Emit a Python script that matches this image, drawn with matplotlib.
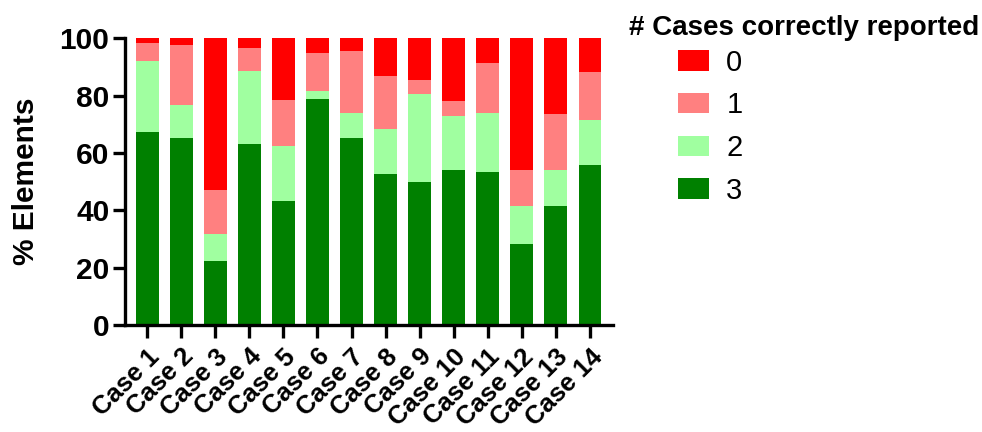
import numpy as np
import matplotlib.pyplot as plt
from matplotlib.patches import Patch

plt.rcParams['font.family'] = ['Liberation Sans', 'DejaVu Sans']

cases = ['Case %d' % i for i in range(1, 15)]

# % of elements by number of cases correctly reported
three = [67.2, 65.1, 22.3, 63.3, 43.4, 79.0, 65.1, 52.6, 49.9, 54.1, 53.4, 28.4, 41.6, 55.7]
two = [25.0, 11.6, 9.4, 25.2, 18.9, 2.5, 9.0, 15.9, 30.7, 18.8, 20.7, 13.0, 12.6, 15.8]
one = [6.1, 21.0, 15.3, 8.2, 16.1, 13.3, 21.6, 18.4, 4.9, 5.1, 17.3, 12.8, 19.4, 16.9]
zero = [1.7, 2.3, 53.0, 3.3, 21.6, 5.2, 4.3, 13.1, 14.5, 22.0, 8.6, 45.8, 26.4, 11.6]

series = [('3', three, '#008000'),
          ('2', two, '#A0FFA0'),
          ('1', one, '#FF8080'),
          ('0', zero, '#FF0000')]

fig = plt.figure(figsize=(9.82, 4.32), dpi=100)
ax = fig.add_axes([0.127, 0.248, 0.497, 0.663])

x = np.arange(len(cases))
bottom = np.zeros(len(cases))
for name, vals, col in series:
    ax.bar(x, vals, width=0.67, bottom=bottom, color=col, linewidth=0)
    bottom += np.array(vals)

ax.set_xlim(-0.66, 13.67)
ax.set_ylim(0, 100)
ax.set_yticks([0, 20, 40, 60, 80, 100])
ax.set_xticks(x)
ax.set_xticklabels(cases, rotation=45, ha='right', rotation_mode='anchor',
                   fontsize=18.5, fontweight='bold')
for lab in ax.get_yticklabels():
    lab.set_fontsize(21.5)
    lab.set_fontweight('bold')
ax.set_ylabel('% Elements', fontsize=21.5, fontweight='bold', labelpad=14)

for s in ['top', 'right']:
    ax.spines[s].set_visible(False)
for s in ['left', 'bottom']:
    ax.spines[s].set_linewidth(2.4)
ax.tick_params(axis='both', width=2.4, length=9, direction='out')
ax.tick_params(axis='x', pad=5)
ax.tick_params(axis='y', pad=2)

# legend: title on its own, entries below it
fig.text(0.641, 0.935, '# Cases correctly reported', fontsize=20,
         fontweight='bold', va='center', ha='left')
handles = [Patch(facecolor=col, label=name) for name, vals, col in series[::-1]]
fig.legend(handles=handles, loc='upper left', bbox_to_anchor=(0.690, 0.887),
           frameon=False, fontsize=21, handlelength=1.07, handleheight=0.7,
           handletextpad=0.6, labelspacing=0.50, borderpad=0, borderaxespad=0)

fig.savefig('out.png', dpi=100)
